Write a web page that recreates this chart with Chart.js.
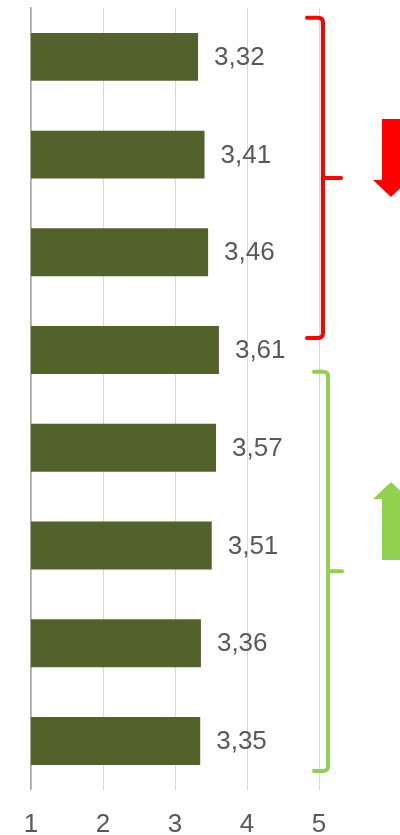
<!DOCTYPE html>
<html>
<head>
<meta charset="utf-8">
<script src="https://cdn.jsdelivr.net/npm/chart.js@4"></script>
<style>
  html, body { margin: 0; padding: 0; background: #fff; }
  #wrap { width: 400px; height: 835px; position: relative; }
</style>
</head>
<body>
<div id="wrap"><canvas id="barChart"></canvas></div>
<script>
// values, top to bottom
const categories = ['A', 'B', 'C', 'D', 'E', 'F', 'G', 'H'];
const scores = [3.32, 3.41, 3.46, 3.61, 3.57, 3.51, 3.36, 3.35];
const xTicks = [1, 2, 3, 4, 5];

const textColor = '#595959';
const fmt = v => v.toFixed(2).replace('.', ',');

// value labels next to each bar
const valueLabels = {
  id: 'valueLabels',
  afterDatasetsDraw(chart) {
    const ctx = chart.ctx;
    const meta = chart.getDatasetMeta(0);
    ctx.save();
    ctx.fillStyle = textColor;
    ctx.font = '26px "Liberation Sans", Arial, sans-serif';
    ctx.textAlign = 'left';
    ctx.textBaseline = 'middle';
    meta.data.forEach((bar, i) => {
      ctx.fillText(fmt(scores[i]), bar.x + 16, bar.y + 1);
    });
    ctx.restore();
  }
};

// brackets and arrows on the right
const groupMarks = {
  id: 'groupMarks',
  afterDraw(chart) {
    const ctx = chart.ctx;
    const ys = chart.scales.y;
    const x5 = chart.scales.x.getPixelForValue(5);
    ctx.save();
    ctx.lineWidth = 4;
    ctx.lineCap = 'round';
    ctx.lineJoin = 'round';

    function bracket(color, xv, top, bottom, left, tip) {
      const mid = (top + bottom) / 2;
      ctx.strokeStyle = color;
      ctx.beginPath();
      ctx.moveTo(left, top);
      ctx.lineTo(xv - 5, top);
      ctx.quadraticCurveTo(xv, top, xv, top + 5);
      ctx.lineTo(xv, bottom - 5);
      ctx.quadraticCurveTo(xv, bottom, xv - 5, bottom);
      ctx.lineTo(left, bottom);
      ctx.stroke();
      ctx.beginPath();
      ctx.moveTo(xv, mid);
      ctx.lineTo(tip, mid);
      ctx.stroke();
    }

    bracket('#FF0000', x5 + 4, ys.getPixelForValue(0) - 39, ys.getPixelForValue(3) - 12, x5 - 12, x5 + 22);
    bracket('#92D050', x5 + 9, ys.getPixelForValue(4) - 76, ys.getPixelForValue(7) + 30, x5 - 5, x5 + 23);

    function arrow(color, cx, tail, base, tip) {
      ctx.fillStyle = color;
      ctx.beginPath();
      ctx.moveTo(cx - 9, tail);
      ctx.lineTo(cx + 9, tail);
      ctx.lineTo(cx + 9, base);
      ctx.lineTo(cx + 18, base);
      ctx.lineTo(cx, tip);
      ctx.lineTo(cx - 18, base);
      ctx.lineTo(cx - 9, base);
      ctx.closePath();
      ctx.fill();
    }
    arrow('#FF0000', x5 + 72, 119, 180, 197);
    arrow('#92D050', x5 + 72, 560, 499, 482);
    ctx.restore();
  }
};

const ctx = document.getElementById('barChart').getContext('2d');
const barChart = new Chart(ctx, {
  type: 'bar',
  data: {
    labels: categories,
    datasets: [{
      data: scores,
      backgroundColor: '#52622A',
      categoryPercentage: 1,
      barPercentage: 0.49
    }]
  },
  options: {
    indexAxis: 'y',
    responsive: true,
    maintainAspectRatio: false,
    animation: false,
    layout: { padding: { left: 31, right: 81, top: 8, bottom: -24 } },
    plugins: { legend: { display: false }, tooltip: { enabled: false } },
    scales: {
      x: {
        min: 1,
        max: 5,
        afterBuildTicks: axis => { axis.ticks = xTicks.map(v => ({ value: v })); },
        grid: { color: '#D9D9D9', lineWidth: 1, drawTicks: false },
        border: { display: false },
        ticks: {
          color: textColor,
          padding: 19,
          font: { family: '"Liberation Sans", Arial, sans-serif', size: 26 }
        }
      },
      y: {
        grid: { display: false, drawTicks: false },
        border: { display: true, color: '#A6A6A6', width: 1.5 },
        ticks: { display: false }
      }
    }
  },
  plugins: [valueLabels, groupMarks]
});
</script>
</body>
</html>
